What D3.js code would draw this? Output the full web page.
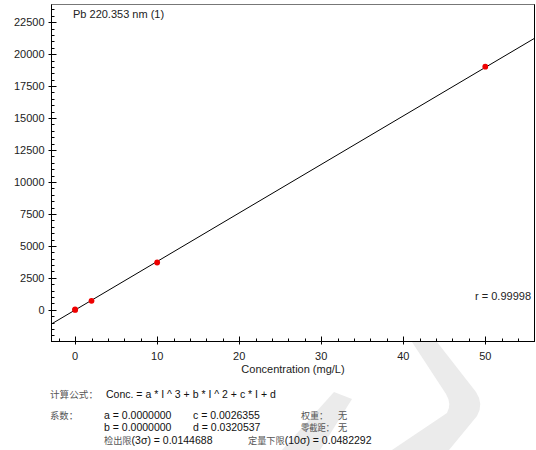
<!DOCTYPE html>
<html><head><meta charset="utf-8">
<script src="https://cdn.jsdelivr.net/npm/d3@7"></script>
<style>
html,body{margin:0;padding:0;background:#fff;}
svg{display:block;}
</style>
</head><body>
<svg id="chart" width="536" height="450"></svg>
<script>
// ---- data ----
const title = "Pb 220.353 nm (1)";
const xLabel = "Concentration (mg/L)";
const concentrations = [0, 0, 2, 10, 50];
const intensities = [-10, 40, 705, 3700, 19020];
const xMajorTicks = [0, 10, 20, 30, 40, 50];
const yMajorTicks = [0, 2500, 5000, 7500, 10000, 12500, 15000, 17500, 20000, 22500];
const coefA = 0.0000000, coefB = 0.0000000, coefC = 0.0026355, coefD = 0.0320537;
const rValue = "r = 0.99998";
const formulaLabel = "计算公式：";
const formulaText = "Conc. = a * I ^ 3 + b * I ^ 2 + c * I + d";
const coefLabel = "系数：";
const coefRows = [
  ["a = 0.0000000", "c = 0.0026355", "权重：", "无"],
  ["b = 0.0000000", "d = 0.0320537", "零截距：", "无"]
];
const lodLabel = ["检出限", "(3σ) = 0.0144688"];
const loqLabel = ["定量下限", "(10σ) = 0.0482292"];

// ---- layout ----
const svg = d3.select("#chart");
const L = 51.5, R = 534.5, T = 4.5, B = 341.5;
const x = d3.scaleLinear().domain([-2.88, 56.0]).range([L, R]);
const y = d3.scaleLinear().domain([-2477, 23880]).range([B, T]);
const latin = "'Liberation Sans', Arial, sans-serif";
const cjk = "'Liberation Sans', 'Noto Sans CJK SC', sans-serif";

// watermark (light gray logo shape)
const wm = svg.append("g").attr("fill", "#ebebeb");
wm.append("path").attr("d", "M412,342 L446,394 Q452,404 447,413 L392,450 L449,450 L477,416 Q484,404 476,392 L437,342 Z");
wm.append("path").attr("d", "M334,392 L352,399 L320,450 L282,450 Z");

// plot background
svg.append("rect").attr("x", L).attr("y", T).attr("width", R - L).attr("height", B - T).attr("fill", "#fff");

// clip
svg.append("clipPath").attr("id", "clip").append("rect")
  .attr("x", L).attr("y", T).attr("width", R - L).attr("height", B - T);

// regression line from coefficients: I = (conc - d) / c
const xd = x.domain();
const fitPts = xd.map(cv => [cv, (cv - coefD) / coefC]);
svg.append("path")
  .attr("clip-path", "url(#clip)")
  .attr("d", d3.line().x(d => x(d[0])).y(d => y(d[1]))(fitPts))
  .attr("stroke", "#000").attr("stroke-width", 1).attr("fill", "none");

// points
svg.append("g").selectAll("circle").data(concentrations.map((c, i) => [c, intensities[i]]))
  .join("circle")
  .attr("cx", d => x(d[0])).attr("cy", d => y(d[1])).attr("r", 2.9)
  .attr("fill", "#ee0000");

// frame
svg.append("rect").attr("x", L).attr("y", T).attr("width", R - L).attr("height", B - T)
  .attr("fill", "none").attr("stroke", "#000").attr("stroke-width", 1);
svg.append("line").attr("x1", L).attr("x2", R).attr("y1", T).attr("y2", T)
  .attr("stroke", "#777").attr("stroke-width", 1);

// y ticks
const yMinor = d3.range(-2000, 24000, 500).filter(v => v % 2500 !== 0 && y(v) > T && y(v) < B);
const yAx = svg.append("g").attr("stroke", "#000").attr("stroke-width", 1);
yAx.selectAll("line.maj").data(yMajorTicks).join("line")
  .attr("x1", L - 3).attr("x2", L + 5)
  .attr("y1", d => Math.round(y(d)) + 0.5).attr("y2", d => Math.round(y(d)) + 0.5);
yAx.selectAll("line.min").data(yMinor).join("line")
  .attr("x1", L).attr("x2", L + 3)
  .attr("y1", d => Math.round(y(d)) + 0.5).attr("y2", d => Math.round(y(d)) + 0.5);
svg.append("g").selectAll("text").data(yMajorTicks).join("text")
  .attr("x", L - 7).attr("y", d => y(d) + 4)
  .attr("text-anchor", "end").attr("font-family", latin).attr("font-size", 11)
  .attr("fill", "#222").text(d => d);

// x ticks
const xMinor = d3.range(-2, 56, 2).filter(v => v % 10 !== 0);
const xAx = svg.append("g").attr("stroke", "#000").attr("stroke-width", 1);
xAx.selectAll("line.maj").data(xMajorTicks).join("line")
  .attr("y1", B + 3).attr("y2", B - 5)
  .attr("x1", d => Math.round(x(d)) + 0.5).attr("x2", d => Math.round(x(d)) + 0.5);
xAx.selectAll("line.min").data(xMinor).join("line")
  .attr("y1", B).attr("y2", B - 3)
  .attr("x1", d => Math.round(x(d)) + 0.5).attr("x2", d => Math.round(x(d)) + 0.5);
svg.append("g").selectAll("text").data(xMajorTicks).join("text")
  .attr("x", d => x(d)).attr("y", 360)
  .attr("text-anchor", "middle").attr("font-family", latin).attr("font-size", 11)
  .attr("fill", "#222").text(d => d);

// axis label, title, r
svg.append("text").attr("x", (L + R) / 2).attr("y", 373).attr("text-anchor", "middle")
  .attr("font-family", latin).attr("font-size", 11).attr("fill", "#222").text(xLabel);
svg.append("text").attr("x", 73).attr("y", 18)
  .attr("font-family", latin).attr("font-size", 11).attr("fill", "#222").text(title);
svg.append("text").attr("x", 531).attr("y", 300).attr("text-anchor", "end")
  .attr("font-family", latin).attr("font-size", 11).attr("fill", "#222").text(rValue);

// bottom info block
const info = svg.append("g");
function t(xp, yp, s, isCjk, len) {
  const el = info.append("text").attr("x", xp).attr("y", yp)
    .attr("font-family", isCjk ? cjk : latin)
    .attr("font-size", isCjk ? 9.2 : 10.5)
    .attr("fill", isCjk ? "#555" : "#111").text(s);
  if (len) el.attr("textLength", len).attr("lengthAdjust", "spacingAndGlyphs");
  return el;
}
t(50, 398, formulaLabel, true, 48);
t(106, 398, formulaText, false);
t(50, 419, coefLabel, true, 28);
const rowY = [419, 431];
coefRows.forEach((row, i) => {
  t(104, rowY[i], row[0], false);
  t(193, rowY[i], row[1], false);
  t(301, rowY[i], row[2], true, i === 0 ? 27 : 33);
  t(338, rowY[i], row[3], true);
});
function mixed(xp, yp, parts) {
  const tx = info.append("text").attr("x", xp).attr("y", yp);
  tx.append("tspan").attr("font-family", cjk).attr("font-size", 9.2).attr("fill", "#555").text(parts[0]);
  tx.append("tspan").attr("font-family", latin).attr("font-size", 10.5).attr("fill", "#111").text(parts[1]);
}
mixed(104, 444, lodLabel);
mixed(248, 444, loqLabel);
</script>
</body></html>
